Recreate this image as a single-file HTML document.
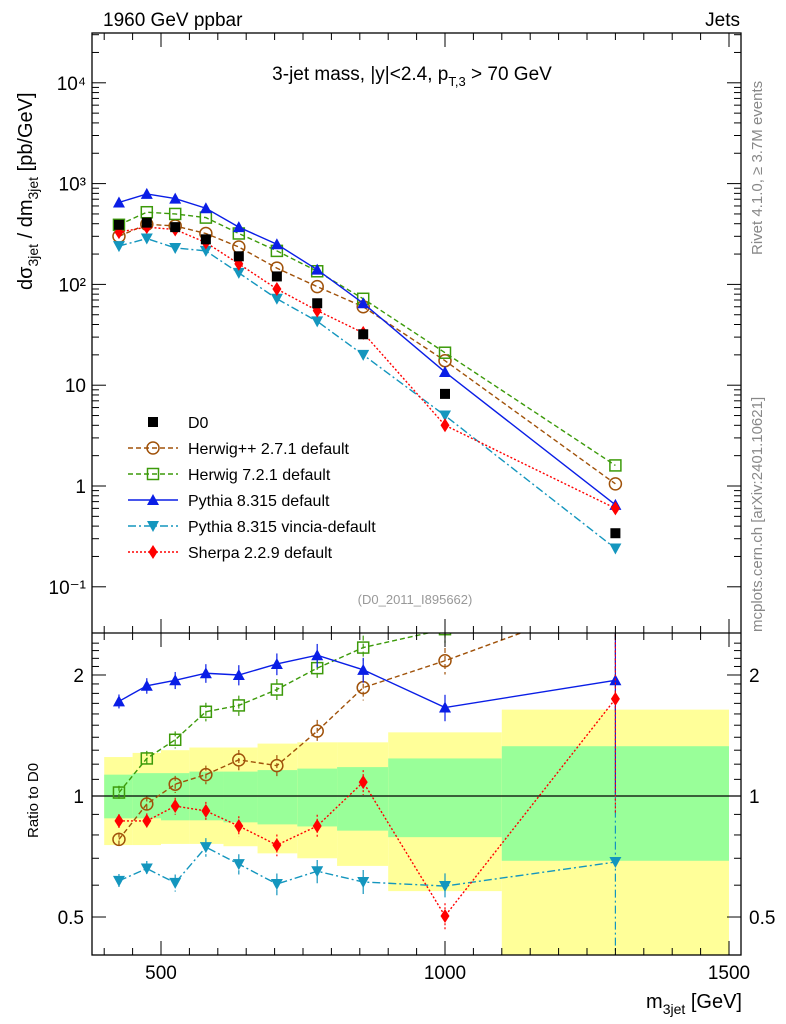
<!DOCTYPE html>
<html><head><meta charset="utf-8"><style>
html,body{margin:0;padding:0;background:#fff}
svg{display:block;font-family:"Liberation Sans",sans-serif}
</style></head><body>
<svg id="c" width="786" height="1024" viewBox="0 0 786 1024" xmlns="http://www.w3.org/2000/svg">
<g id="bands"></g>
<g id="series"></g>
<g id="axes"></g>
<text x="103" y="26" font-size="19">1960 GeV ppbar</text>
<text x="740" y="26" font-size="19" text-anchor="end">Jets</text>
<text x="412" y="80" font-size="19" text-anchor="middle">3-jet mass, |y|&lt;2.4, p<tspan font-size="13" dy="6">T,3</tspan><tspan dy="-6"> &gt; 70 GeV</tspan></text>
<text x="415" y="604" font-size="13" fill="#999" text-anchor="middle">(D0_2011_I895662)</text>
<text transform="translate(762,255) rotate(-90)" font-size="15" fill="#888">Rivet 4.1.0, ≥ 3.7M events</text>
<text transform="translate(762,632) rotate(-90)" font-size="15" fill="#888">mcplots.cern.ch [arXiv:2401.10621]</text>
<text transform="translate(32,290) rotate(-90)" font-size="20">dσ<tspan font-size="14" dy="6">3jet</tspan><tspan dy="-6"> / dm</tspan><tspan font-size="14" dy="6">3jet</tspan><tspan dy="-6"> [pb/GeV]</tspan></text>
<text transform="translate(38,838) rotate(-90)" font-size="15">Ratio to D0</text>
<text x="742" y="1008" font-size="20" text-anchor="end">m<tspan font-size="14" dy="6">3jet</tspan><tspan dy="-6"> [GeV]</tspan></text>
<g id="legend"></g>
</svg>
<script>
const masses=[426,475,525,579,637,704,775,856,1000,1300];
const d0=[390,410,370,280,190,120,65,32,8.2,0.34];
const hwpp=[300,395,380,320,235,145,95,60,17.5,1.05];
const hw7=[390,520,500,460,320,215,135,72,21,1.6];
const py8=[650,790,710,570,370,250,140,65,13.5,0.65];
const vin=[240,285,230,215,130,72,43,20,5,0.24];
const sherpa=[330,370,350,260,160,90,55,33,4,0.6];
const rHwpp=[0.78,0.955,1.07,1.13,1.23,1.19,1.45,1.86,2.17,3.1];
const rHw7=[1.02,1.24,1.38,1.62,1.68,1.84,2.08,2.34,2.6,4.7];
const rPy8=[1.72,1.88,1.94,2.02,2.0,2.13,2.24,2.06,1.66,1.94];
const rVin=[0.615,0.66,0.608,0.746,0.677,0.604,0.65,0.611,0.597,0.685];
const rSherpa=[0.867,0.867,0.944,0.918,0.842,0.755,0.842,1.083,0.503,1.744];
const binEdges=[400,450,500,550,610,670,740,810,900,1100,1500];
const yelHi=[1.25,1.28,1.30,1.32,1.32,1.35,1.36,1.36,1.44,1.64];
const yelLo=[0.755,0.755,0.76,0.76,0.75,0.72,0.70,0.67,0.58,0.3];
const grnHi=[1.13,1.14,1.14,1.15,1.15,1.16,1.17,1.18,1.24,1.33];
const grnLo=[0.88,0.88,0.87,0.87,0.86,0.85,0.84,0.82,0.79,0.69];
const xTicks=[500,1000,1500];
const yDecades=[-1,0,1,2,3,4];
const yDecLabels=["10⁻¹","1","10","10²","10³","10⁴"];
const rTickLabels=[0.5,1,2];

const NS="http://www.w3.org/2000/svg";
const X=m=>161+(m-500)*0.568;
const Y=v=>486-100.8*Math.log10(v);
const R=r=>796-402*Math.log10(r);
const L=92,RT=741,T=33,MB=633,B=955;
function el(p,t,a){const e=document.createElementNS(NS,t);for(const k in a)e.setAttribute(k,a[k]);p.appendChild(e);return e;}
const bands=document.getElementById('bands'),ser=document.getElementById('series'),ax=document.getElementById('axes'),leg=document.getElementById('legend');

for(let i=0;i<yelHi.length;i++){
  const x0=X(binEdges[i]),x1=X(binEdges[i+1]);
  const yb=Math.min(R(yelLo[i]),B);
  const y=el(bands,'rect',{x:x0,y:R(yelHi[i]),width:x1-x0,height:yb-R(yelHi[i]),fill:'#ffff99'});
  
  
  const g=el(bands,'rect',{x:x0,y:R(grnHi[i]),width:x1-x0,height:R(grnLo[i])-R(grnHi[i]),fill:'#99ff99'});
  
  
}
el(bands,'line',{x1:L,x2:RT,y1:R(1),y2:R(1),stroke:'#000','stroke-width':1.3});

function marker(p,type,cx,cy,col){
  let e;
  if(type==='sq')e=el(p,'rect',{x:cx-5,y:cy-5,width:10,height:10,fill:'#000'});
  else if(type==='osq')e=el(p,'rect',{x:cx-5.5,y:cy-5.5,width:11,height:11,fill:'none',stroke:col,'stroke-width':1.5});
  else if(type==='oc')e=el(p,'circle',{cx,cy,r:6,fill:'none',stroke:col,'stroke-width':1.5});
  else if(type==='tu')e=el(p,'polygon',{points:`${cx},${cy-6} ${cx-6},${cy+5} ${cx+6},${cy+5}`,fill:col});
  else if(type==='td')e=el(p,'polygon',{points:`${cx},${cy+6} ${cx-6},${cy-5} ${cx+6},${cy-5}`,fill:col});
  else e=el(p,'polygon',{points:`${cx},${cy-7} ${cx-4.5},${cy} ${cx},${cy+7} ${cx+4.5},${cy}`,fill:col});
  return e;
}
const defs=[
 {name:'herwigpp',label:'Herwig++ 2.7.1 default',col:'#a0520a',dash:'5,3',m:'oc',v:hwpp,r:rHwpp},
 {name:'herwig7',label:'Herwig 7.2.1 default',col:'#3c9a0a',dash:'5,3',m:'osq',v:hw7,r:rHw7},
 {name:'pythia8',label:'Pythia 8.315 default',col:'#0a1ee6',dash:'',m:'tu',v:py8,r:rPy8},
 {name:'vincia',label:'Pythia 8.315 vincia-default',col:'#1496be',dash:'8,3,2,3',m:'td',v:vin,r:rVin},
 {name:'sherpa',label:'Sherpa 2.2.9 default',col:'#ff0000',dash:'2,2',m:'dm',v:sherpa,r:rSherpa}
];
const clip=el(ser,'clipPath',{id:'cm'});el(clip,'rect',{x:L,y:T,width:RT-L,height:MB-T});
const clip2=el(ser,'clipPath',{id:'cr'});el(clip2,'rect',{x:L,y:MB,width:RT-L,height:B-MB});
const gm=el(ser,'g',{'clip-path':'url(#cm)'}),gr=el(ser,'g',{'clip-path':'url(#cr)'});
defs.forEach(s=>{
  const pm=masses.map((m,i)=>X(m)+','+Y(s.v[i])).join(' ');
  const l=el(gm,'polyline',{points:pm,fill:'none',stroke:s.col,'stroke-width':1.4,'stroke-dasharray':s.dash});
  
  
  masses.forEach((m,i)=>{const k=marker(gm,s.m,X(m),Y(s.v[i]),s.col);
    
    });
  const pr=masses.map((m,i)=>X(m)+','+R(s.r[i])).join(' ');
  const l2=el(gr,'polyline',{points:pr,fill:'none',stroke:s.col,'stroke-width':1.4,'stroke-dasharray':s.dash});
  
  
  masses.forEach((m,i)=>{const e=0.04+0.04*i/9+(i==9?0.4:0);
    el(gr,'line',{x1:X(m),x2:X(m),y1:R(s.r[i]*(1+e)),y2:R(s.r[i]*(1-e)),stroke:s.col,'stroke-width':1.2,'stroke-dasharray':s.dash});
    const k=marker(gr,s.m,X(m),R(s.r[i]),s.col);
    
    });
});
masses.forEach((m,i)=>{const k=marker(gm,'sq',X(m),Y(d0[i]),'#000');
  
  });

el(ax,'rect',{x:L,y:T,width:RT-L,height:B-T,fill:'none',stroke:'#000','stroke-width':1.3});
el(ax,'line',{x1:L,x2:RT,y1:MB,y2:MB,stroke:'#000','stroke-width':1.3});
for(let m=400;m<=1500;m+=50){const big=m%500===0,len=big?14:7;
  [[MB,-1],[T,1],[B,-1],[MB,1]].forEach(([yy,dir])=>el(ax,'line',{x1:X(m),x2:X(m),y1:yy,y2:yy+dir*len,stroke:'#000'}));}
xTicks.forEach(m=>{const t=el(ax,'text',{x:X(m),y:B+24,'font-size':19,'text-anchor':'middle'});t.textContent=m;
  
  });
yDecades.forEach((d,i)=>{
  for(let k=1;k<10;k++){const y=Y(Math.pow(10,d)*k);if(y<T||y>MB)continue;const len=k===1?14:7;
    el(ax,'line',{x1:L,x2:L+len,y1:y,y2:y,stroke:'#000'});el(ax,'line',{x1:RT,x2:RT-len,y1:y,y2:y,stroke:'#000'});}
  const t=el(ax,'text',{x:L-6,y:Y(Math.pow(10,d))+7,'font-size':19,'text-anchor':'end'});t.textContent=yDecLabels[i];
  
  
});
for(let r=0.4;r<=2.5;r+=0.1){const y=R(r);if(y<MB||y>B)continue;const big=[0.5,1,2].some(v=>Math.abs(v-r)<1e-6);const len=big?14:7;
  el(ax,'line',{x1:L,x2:L+len,y1:y,y2:y,stroke:'#000'});el(ax,'line',{x1:RT,x2:RT-len,y1:y,y2:y,stroke:'#000'});}
rTickLabels.forEach(r=>{[[L-8,'end'],[RT+8,'start']].forEach(([x,a])=>{const t=el(ax,'text',{x,y:R(r)+7,'font-size':19,'text-anchor':a});t.textContent=r;
  
  });});

const items=[{label:'D0',m:'sq',col:'#000',dash:null}].concat(defs);
items.forEach((s,i)=>{const y=422+i*26;
  if(s.dash!==null)el(leg,'line',{x1:128,x2:178,y1:y,y2:y,stroke:s.col,'stroke-width':1.4,'stroke-dasharray':s.dash});
  marker(leg,s.m,153,y,s.col);
  const t=el(leg,'text',{x:188,y:y+6,'font-size':16});t.textContent=s.label;
  
  });
</script>
</body></html>
